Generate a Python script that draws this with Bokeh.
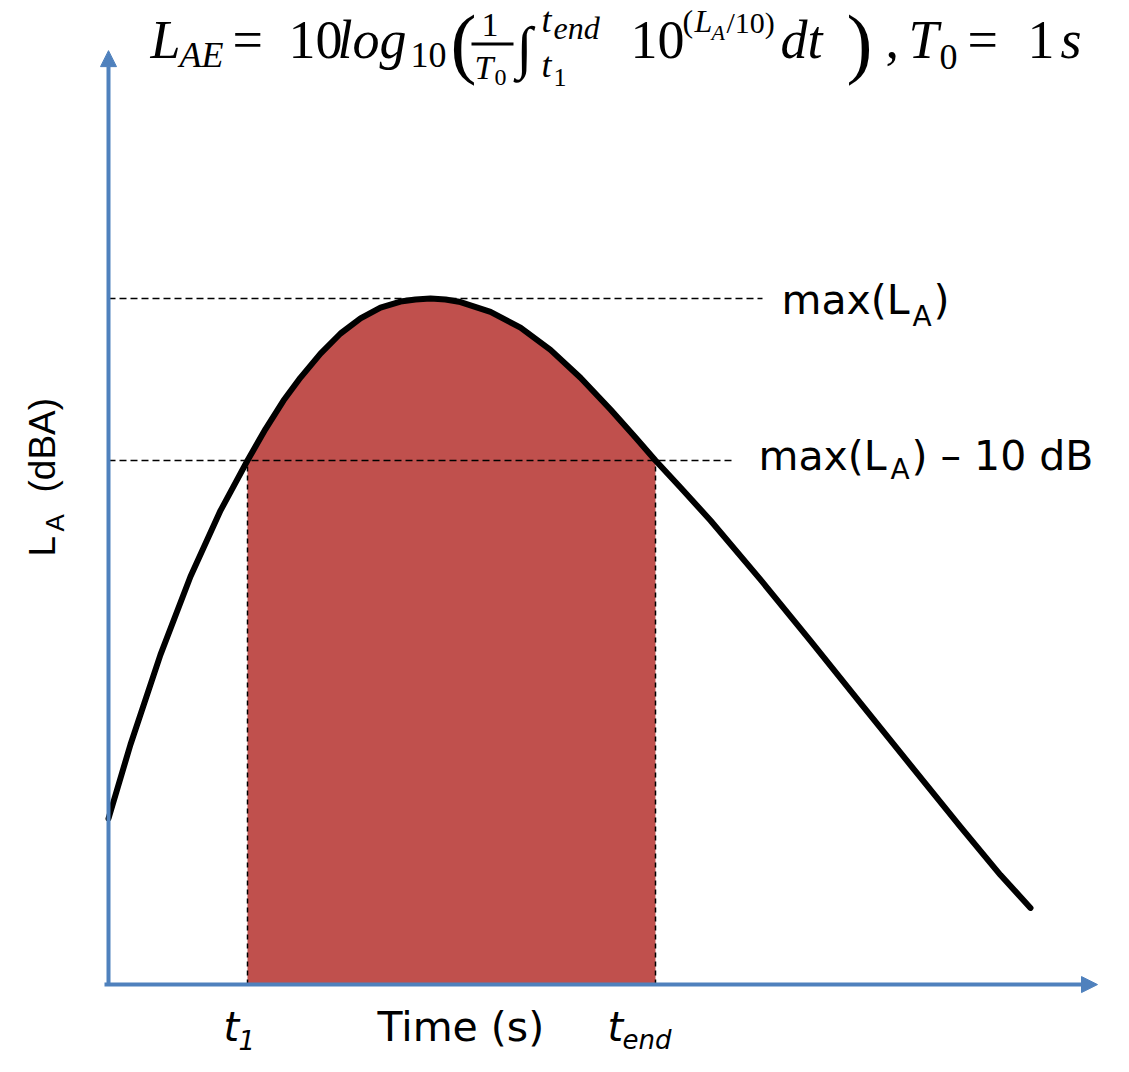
import numpy as np
from bokeh.plotting import figure
from bokeh.models import Range1d, Arrow, NormalHead, Label, BoxAnnotation
from bokeh.embed import file_html
from bokeh.resources import INLINE

# ---------------- data ----------------
time_s = [0.00, 0.22, 0.52, 0.82, 1.12, 1.39, 1.57, 1.75, 1.92, 2.12, 2.32,
          2.52, 2.72, 2.92, 3.07, 3.22, 3.37, 3.52, 3.82, 4.12, 4.42, 4.72,
          5.02, 5.27, 5.47, 5.72, 6.02, 6.52, 7.02, 7.52, 8.02, 8.52, 8.92, 9.22]
level_dBA = [47.90, 52.47, 58.02, 62.84, 66.91, 70.00, 71.94, 73.70, 75.12, 76.60, 77.84,
             78.77, 79.44, 79.81, 79.94, 80.00, 79.94, 79.78, 79.17, 78.20, 76.83, 75.11,
             73.15, 71.42, 70.00, 68.33, 66.30, 62.65, 58.86, 55.03, 51.20, 47.38, 44.41, 42.38]
t1 = 1.39
t_end = 5.47
LA_max = 80.0
LA_max_minus10 = 70.0
axis_level = 37.65      # level where the time axis sits
y_axis_top = 95.3       # arrow tip of the level axis
x_axis_start = -0.04
x_axis_end = 9.89       # arrow tip of the time axis
max_line_end = 6.54     # dashed line ends
max10_line_end = 6.27

# ---------------- layout ----------------
W, H = 1113, 1056
PX_T = 100.0      # px per second
PX_L = 16.2       # px per dB
x0_px = 108.0     # px of t=0 from left
ymax_px = 298.0   # px of LA_max from top

BLUE = "#4F81BD"
RED = "#C0504D"

p = figure(width=W, height=H,
           x_range=Range1d(-x0_px / PX_T, (W - x0_px) / PX_T),
           y_range=Range1d(LA_max - (H - ymax_px) / PX_L, LA_max + ymax_px / PX_L),
           output_backend="svg", toolbar_location=None, min_border=0,
           x_axis_location=None, y_axis_location=None)
p.grid.visible = False
p.outline_line_color = None
p.background_fill_color = "white"
p.border_fill_color = "white"

t = np.array(time_s)
L = np.array(level_dBA)
mask = (t >= t1) & (t <= t_end)

# shaded area
p.varea(x=t[mask], y1=axis_level, y2=L[mask], fill_color=RED, fill_alpha=1.0)

# dashed guides
p.line([0, max_line_end], [LA_max, LA_max], line_color="black", line_width=1.5, line_dash="7 4")
p.line([0, max10_line_end], [LA_max_minus10, LA_max_minus10], line_color="black", line_width=1.5, line_dash="7 4")
p.line([t1, t1], [axis_level, LA_max_minus10], line_color="black", line_width=1.5, line_dash="5 4")
p.line([t_end, t_end], [axis_level, LA_max_minus10], line_color="black", line_width=1.5, line_dash="5 4")

# curve
p.line(t, L, line_color="black", line_width=6, line_join="round", line_cap="round")

# axes arrows
p.add_layout(Arrow(end=NormalHead(size=16, fill_color=BLUE, line_color=BLUE, line_width=1),
                   x_start=x_axis_start, y_start=axis_level, x_end=x_axis_end, y_end=axis_level,
                   line_color=BLUE, line_width=4))
p.add_layout(Arrow(end=NormalHead(size=16, fill_color=BLUE, line_color=BLUE, line_width=1),
                   x_start=0, y_start=axis_level, x_end=0, y_end=y_axis_top,
                   line_color=BLUE, line_width=4))

BASE_SHIFT = 0.38  # compensation for where the label baseline lands


def lab(text, X, Y, size, font="DejaVu Sans", style="normal", rotated=False):
    if rotated:
        sx, sy, ang = X - BASE_SHIFT * size, H - Y, np.pi / 2
    else:
        sx, sy, ang = X, H - Y + BASE_SHIFT * size, 0.0
    p.add_layout(Label(x=sx, y=sy, x_units="screen", y_units="screen",
                       text=text, text_font=font, text_font_size=f"{size}px",
                       text_font_style=style, text_color="black",
                       text_baseline="alphabetic", text_align="left", angle=ang))


SERIF = "Liberation Serif"
# formula
lab("L", 150, 60, 54, SERIF, "italic")
lab("AE", 179, 68, 36, SERIF, "italic")
lab("=", 232, 60, 54, SERIF)
lab("10", 288, 60, 54, SERIF)
lab("log", 337, 60, 54, SERIF, "italic")
lab("10", 410, 68, 36, SERIF)
lab("(", 450, 72, 78, SERIF)
lab("1", 481, 37, 34, SERIF)
p.add_layout(BoxAnnotation(left=471, right=513, top=H - 42, bottom=H - 45,
                           left_units="screen", right_units="screen",
                           top_units="screen", bottom_units="screen",
                           fill_color="black", fill_alpha=1.0, line_color=None))
lab("T", 474, 80, 34, SERIF, "italic")
lab("0", 494, 86, 24, SERIF)
lab("\u222B", 516, 69, 58, SERIF)
lab("t", 541, 33, 36, SERIF, "italic")
lab("end", 553, 40, 32, SERIF, "italic")
lab("t", 541, 78, 36, SERIF, "italic")
lab("1", 553, 87, 26, SERIF)
lab("10", 630, 60, 54, SERIF)
lab("(", 682, 33, 32, SERIF)
lab("L", 694, 33, 32, SERIF, "italic")
lab("A", 711, 40, 22, SERIF, "italic")
lab("/10)", 726, 33, 30, SERIF)
lab("dt", 780, 60, 54, SERIF, "italic")
lab(")", 846, 72, 78, SERIF)
lab(",", 885, 60, 54, SERIF)
lab("T", 908, 60, 54, SERIF, "italic")
lab("0", 939, 70, 36, SERIF)
lab("=", 967, 60, 54, SERIF)
lab("1", 1027, 60, 54, SERIF)
lab("s", 1060, 60, 54, SERIF, "italic")

# right-hand labels
lab("max(L", 781, 315, 41)
lab("A", 912, 327, 28)
lab(")", 933, 315, 41)
lab("max(L", 758, 471, 41)
lab("A", 890, 480, 28)
lab(") \u2013 10 dB", 911, 471, 41)

# bottom labels
lab("t", 223, 1042, 40, style="italic")
lab("1", 238, 1049, 26, style="italic")
lab("Time (s)", 377, 1042, 41)
lab("t", 607, 1042, 40, style="italic")
lab("end", 622, 1049, 26, style="italic")

# vertical axis label
lab("L", 56, 556, 37, "Liberation Sans", rotated=True)
lab("A", 64, 531, 26, "Liberation Sans", rotated=True)
lab("(dBA)", 56, 492, 37, "Liberation Sans", rotated=True)

open("out.html", "w").write(file_html(p, INLINE))
